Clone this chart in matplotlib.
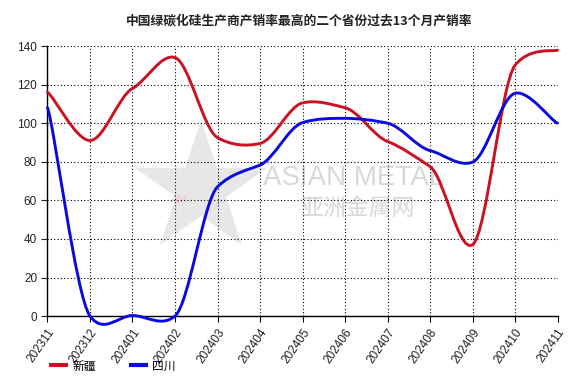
import matplotlib
matplotlib.use("Agg")
import matplotlib.pyplot as plt
from matplotlib.path import Path
from matplotlib.patches import PathPatch
from matplotlib.lines import Line2D

plt.rcParams['font.family'] = ['Liberation Sans', 'Noto Sans CJK SC', 'DejaVu Sans']

# data
months = ["202311", "202312", "202401", "202402", "202403", "202404", "202405",
          "202406", "202407", "202408", "202409", "202410", "202411"]
xinjiang = [116, 91, 118, 134, 92.5, 89.5, 110.5, 108, 90.5, 77.5, 37, 130, 137.8]
sichuan = [108, 0, 0.3, 0, 67, 78.3, 100.3, 102.5, 100, 85.8, 79.8, 115.5, 100]

title = "中国绿碳化硅生产商产销率最高的二个省份过去13个月产销率"
series_names = ["新疆", "四川"]
colors = ["#cc1122", "#0a0ae0"]


def smooth_path(ys, k=0.55):
    # cardinal spline drawn as cubic bezier segments
    n = len(ys)
    pts = [(i, y) for i, y in enumerate(ys)]
    verts = [pts[0]]
    codes = [Path.MOVETO]
    for i in range(n - 1):
        p0 = pts[max(i - 1, 0)]
        p1 = pts[i]
        p2 = pts[i + 1]
        p3 = pts[min(i + 2, n - 1)]
        c1 = (p1[0] + (p2[0] - p0[0]) / 6, p1[1] + k * (p2[1] - p0[1]) / 6)
        c2 = (p2[0] - (p3[0] - p1[0]) / 6, p2[1] - k * (p3[1] - p1[1]) / 6)
        verts += [c1, c2, p2]
        codes += [Path.CURVE4] * 3
    return Path(verts, codes)


fig = plt.figure(figsize=(5.75, 3.85), dpi=100)
ax = fig.add_axes([0.0826, 0.179, 0.887, 0.7015])

# watermark
ax.plot([3.6], [66], marker="*", markersize=100, color="#dedede", alpha=0.7,
        markeredgewidth=0, zorder=0)
ax.text(3.1, 60, "AM", color="#f3c4c8", fontsize=8, ha="center", va="center", zorder=0)
ax.text(5.07, 71.5, "ASIAN METAL", color="#d8d8d8", fontsize=20, ha="left",
        va="center", zorder=0)
ax.text(7.32, 56, "亚洲金属网", color="#d8d8d8", fontsize=16.5, ha="center",
        va="center", family=['Noto Sans CJK SC'], zorder=0)

for ys, c in zip([xinjiang, sichuan], colors):
    ax.add_patch(PathPatch(smooth_path(ys), facecolor="none", edgecolor=c,
                           lw=2.1, zorder=3, capstyle="round", clip_on=False))

ax.set_xlim(0, len(months) - 1)
ax.set_ylim(0, 140)
ax.set_xticks(range(len(months)))
ax.set_xticklabels(months, rotation=55, ha="right", rotation_mode="anchor",
                   fontsize=8.5, color="#222222")
ax.set_yticks(range(0, 141, 20))
ax.tick_params(axis="y", labelsize=8.5, colors="#222222", length=4)
ax.tick_params(axis="x", length=4)
ax.grid(True, color="black", linestyle=(0, (1, 2)), linewidth=0.8)
for s in ["top", "right"]:
    ax.spines[s].set_visible(False)
for s in ["left", "bottom"]:
    ax.spines[s].set_color("black")
    ax.spines[s].set_linewidth(1.0)

fig.text(0.52, 0.945, title, ha="center", va="center", fontsize=9.2,
         fontweight="bold", family=['Noto Sans CJK SC'], color="#222222")

handles = [Line2D([], [], color=c, lw=3) for c in colors]
fig.legend(handles, series_names, loc="lower left", bbox_to_anchor=(0.07, 0.005),
           ncol=2, frameon=False, handlelength=1.3, columnspacing=3,
           handletextpad=0.5, prop={"family": "Noto Sans CJK SC", "size": 8.5})

fig.savefig("out.png", dpi=100)
